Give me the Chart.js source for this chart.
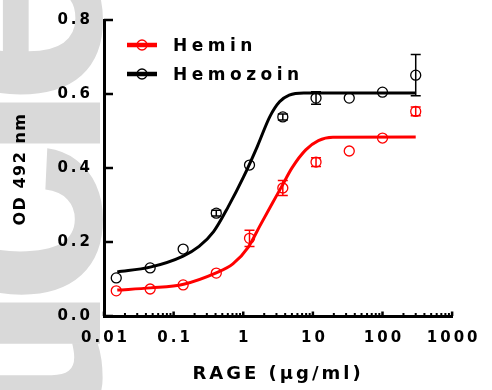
<!DOCTYPE html>
<html>
<head>
<meta charset="utf-8">
<script src="https://cdn.jsdelivr.net/npm/chart.js@4.4.0/dist/chart.umd.min.js"></script>
<style>
  html, body { margin: 0; padding: 0; background: #fff; }
  #wrap { width: 492px; height: 390px; }
</style>
</head>
<body>
<div id="wrap"><canvas id="odChart"></canvas></div>
<script>
// RAGE dose (ug/ml), threefold dilutions
const doses = [0.015, 0.046, 0.137, 0.41, 1.23, 3.7, 11.1, 33.3, 100, 300];

// measured OD 492 nm (mean and error bar half-height)
const heminMean = [0.068, 0.073, 0.084, 0.116, 0.210, 0.346, 0.416, 0.446, 0.481, 0.553];
const heminErr = [0, 0, 0, 0, 0.022, 0.020, 0.012, 0, 0, 0.012];
const hemozoinMean = [0.103, 0.130, 0.181, 0.278, 0.408, 0.538, 0.589, 0.589, 0.605, 0.651];
const hemozoinErr = [0, 0, 0, 0.008, 0, 0.008, 0.017, 0, 0, 0.056];

// fitted curves
const heminFitX = [0.0155, 0.0466, 0.139, 0.40, 0.71, 1.19, 1.75, 2.57, 3.54, 5.04, 7.9, 12, 19.4, 300];
const heminFitY = [0.070, 0.076, 0.086, 0.116, 0.141, 0.187, 0.245, 0.302, 0.349, 0.401, 0.449, 0.474, 0.483, 0.484];
const hemozoinFitX = [0.0155, 0.046, 0.137, 0.232, 0.375, 0.607, 1.01, 1.59, 2.41, 3.32, 4.57, 7.4, 300];
const hemozoinFitY = [0.119, 0.132, 0.162, 0.188, 0.228, 0.295, 0.376, 0.458, 0.539, 0.579, 0.597, 0.603, 0.603];

// axes
const xDecades = [0.01, 0.1, 1, 10, 100, 1000];
const xTickLabels = ['0.01', '0.1', '1', '10', '100', '1000'];
const yTicks = [0, 0.2, 0.4, 0.6, 0.8];

const FONT = '"DejaVu Sans", Verdana, sans-serif';
const WATERMARK_FONT = '"Liberation Sans", Arial, sans-serif';
const RED = '#ff0000';
const BLACK = '#000000';
const SPACING = '3px';

function pairs(xs, ys) {
  return xs.map((x, i) => ({ x: x, y: ys[i] }));
}

// draws the bits Chart.js doesn't do out of the box:
// watermark, inward tick marks, error bars, legend, y title
const figurePlugin = {
  id: 'figure',
  beforeUpdate(chart) {
    chart.ctx.letterSpacing = SPACING;
  },
  beforeDraw(chart) {
    const c = chart.ctx;
    c.save();
    c.letterSpacing = '-25px';
    c.fillStyle = '#d9d9d9';
    c.font = 'bold 300px ' + WATERMARK_FONT;
    c.translate(100, 723);
    c.rotate(-Math.PI / 2);
    c.textAlign = 'left';
    c.textBaseline = 'alphabetic';
    c.fillText('Article', 0, 0);
    c.restore();
    c.letterSpacing = SPACING;
  },
  afterDatasetsDraw(chart) {
    const c = chart.ctx;
    const xs = chart.scales.x, ys = chart.scales.y;
    chart.data.datasets.forEach(ds => {
      if (!ds.errors) return;
      c.save();
      c.strokeStyle = ds.pointBorderColor;
      c.lineWidth = 1.5;
      ds.data.forEach((p, i) => {
        const e = ds.errors[i];
        if (!e) return;
        const px = xs.getPixelForValue(p.x);
        const top = ys.getPixelForValue(p.y + e);
        const bot = ys.getPixelForValue(p.y - e);
        c.beginPath();
        c.moveTo(px, top); c.lineTo(px, bot);
        c.moveTo(px - 5, top); c.lineTo(px + 5, top);
        c.moveTo(px - 5, bot); c.lineTo(px + 5, bot);
        c.stroke();
      });
      c.restore();
    });
  },
  afterDraw(chart) {
    const c = chart.ctx;
    const area = chart.chartArea;
    const xs = chart.scales.x, ys = chart.scales.y;
    c.save();
    c.strokeStyle = BLACK;
    // y ticks, pointing into the plot
    c.lineWidth = 2.5;
    yTicks.forEach(v => {
      const py = ys.getPixelForValue(v);
      c.beginPath();
      c.moveTo(area.left, py);
      c.lineTo(area.left + 9, py);
      c.stroke();
    });
    // x ticks, pointing up
    xs.ticks.forEach(t => {
      const px = xs.getPixelForValue(t.value);
      c.lineWidth = t.major ? 2.5 : 2;
      c.beginPath();
      c.moveTo(px, area.bottom);
      c.lineTo(px, area.bottom - (t.major ? 4.5 : 3));
      c.stroke();
    });

    // y title
    c.fillStyle = BLACK;
    c.letterSpacing = '1.5px';
    c.font = 'bold 16px ' + FONT;
    c.translate(21, (area.top + area.bottom) / 2 + 1);
    c.rotate(-Math.PI / 2);
    c.textAlign = 'center';
    c.textBaseline = 'middle';
    c.fillText('OD 492 nm', 0, 0);
    c.restore();

    // legend
    c.save();
    c.letterSpacing = '4.5px';
    c.font = 'bold 17px ' + FONT;
    c.textBaseline = 'middle';
    c.textAlign = 'left';
    let row = 0;
    chart.data.datasets.forEach(ds => {
      if (!ds.showLine) return;
      const y = 45 + row * 29;
      c.strokeStyle = ds.borderColor;
      c.lineWidth = 4.5;
      c.beginPath();
      c.moveTo(127, y); c.lineTo(157, y);
      c.stroke();
      c.lineWidth = 1.3;
      c.beginPath();
      c.arc(142, y, 5, 0, Math.PI * 2);
      c.stroke();
      c.fillStyle = BLACK;
      c.fillText(ds.label, 173, y + 1.5);
      row++;
    });
    c.restore();
    c.letterSpacing = SPACING;
  }
};

const fitStyle = (color) => ({
  showLine: true,
  borderColor: color,
  borderWidth: 3,
  pointRadius: 0,
  cubicInterpolationMode: 'monotone',
  clip: false
});

const pointStyle = (color) => ({
  showLine: false,
  pointRadius: 5,
  pointBorderWidth: 1.3,
  pointBorderColor: color,
  pointBackgroundColor: 'rgba(0,0,0,0)',
  clip: false
});

new Chart(document.getElementById('odChart'), {
  type: 'scatter',
  data: {
    datasets: [
      Object.assign({ label: 'Hemin', data: pairs(heminFitX, heminFitY) }, fitStyle(RED)),
      Object.assign({ label: 'Hemozoin', data: pairs(hemozoinFitX, hemozoinFitY) }, fitStyle(BLACK)),
      Object.assign({ label: 'Hemin data', data: pairs(doses, heminMean), errors: heminErr }, pointStyle(RED)),
      Object.assign({ label: 'Hemozoin data', data: pairs(doses, hemozoinMean), errors: hemozoinErr }, pointStyle(BLACK))
    ]
  },
  options: {
    responsive: true,
    maintainAspectRatio: false,
    animation: false,
    layout: { padding: { left: 0, right: 29, top: 20, bottom: 0 } },
    plugins: {
      legend: { display: false },
      tooltip: { enabled: false }
    },
    scales: {
      x: {
        type: 'logarithmic',
        min: 0.01,
        max: 1000,
        border: { display: true, width: 3, color: BLACK },
        grid: { display: true, drawOnChartArea: false, drawTicks: false },
        afterBuildTicks(scale) {
          const t = [];
          xDecades.forEach((d, i) => {
            if (i === xDecades.length - 1) { t.push({ value: d, major: true }); return; }
            for (let m = 1; m < 10; m++) t.push({ value: d * m, major: m === 1 });
          });
          scale.ticks = t;
        },
        afterFit(scale) { scale.height = 74; },
        ticks: {
          autoSkip: false,
          maxRotation: 0,
          padding: 13,
          labelOffset: 1.5,
          color: BLACK,
          font: { family: FONT, size: 15, weight: 'bold' },
          callback(value, index, ticks) {
            const k = xDecades.indexOf(ticks[index].value);
            return k >= 0 ? xTickLabels[k] : '';
          }
        },
        title: {
          display: true,
          text: 'RAGE (\u00b5g/ml)',
          color: BLACK,
          font: { family: FONT, size: 18, weight: 'bold' },
          padding: { top: 0, bottom: 5 }
        }
      },
      y: {
        min: 0,
        max: 0.8,
        border: { display: true, width: 3, color: BLACK },
        grid: { display: true, drawOnChartArea: false, drawTicks: false },
        afterBuildTicks(scale) {
          scale.ticks = yTicks.map(v => ({ value: v }));
        },
        afterFit(scale) { scale.width = 104; },
        ticks: {
          padding: 11,
          color: BLACK,
          font: { family: FONT, size: 15, weight: 'bold' },
          callback: (v) => Number(v).toFixed(1)
        }
      }
    }
  },
  plugins: [figurePlugin]
});
</script>
</body>
</html>
